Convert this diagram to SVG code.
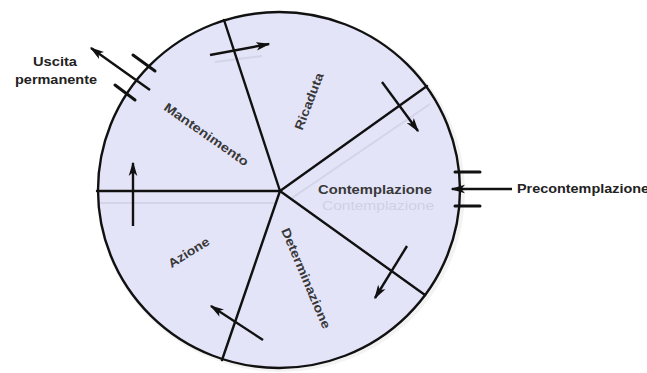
<svg xmlns="http://www.w3.org/2000/svg" width="647" height="373" viewBox="0 0 647 373">
<defs>
<marker id="ah" viewBox="0 0 10 6" refX="9" refY="3" markerWidth="6" markerHeight="3.8" markerUnits="strokeWidth" orient="auto">
<path d="M0,0 L10,3 L0,6 L2.5,3 Z" fill="#111"/>
</marker>
<style>
.sp{stroke:#111;stroke-width:2.4;fill:none;stroke-linecap:round}
.ar{stroke:#111;stroke-width:2.4;fill:none;marker-end:url(#ah)}
.bar{stroke:#111;stroke-width:3;stroke-linecap:round}
.sh{stroke:#c9c9dd;stroke-width:2;fill:none;opacity:0.6}
.lbl{font-family:"Liberation Sans",Arial,sans-serif;font-size:12.5px;font-weight:bold;fill:#383838;text-anchor:middle}
.ext{font-family:"Liberation Sans",Arial,sans-serif;font-size:12px;font-weight:bold;fill:#222}
.ghost{font-family:"Liberation Sans",Arial,sans-serif;font-size:12px;fill:#d0d0e4;text-anchor:middle}
</style>
</defs>
<rect width="647" height="373" fill="#fff"/>
<g id="wheel">
<ellipse cx="281" cy="192" rx="184" ry="180" fill="#f0f0f0" opacity="0.8"/>
<ellipse cx="279" cy="190" rx="181" ry="178" fill="#e4e4f8" stroke="#111" stroke-width="2.4"/>
</g>
<g id="shadows">
<line class="sh" x1="100" y1="203" x2="275" y2="203"/>
<line class="sh" x1="292" y1="198" x2="430" y2="104"/>
<line class="sh" x1="215" y1="62" x2="262" y2="56"/>
</g>
<g id="connectors">
<line class="sp" x1="280" y1="191" x2="224" y2="20"/>
<line class="sp" x1="280" y1="191" x2="427" y2="86"/>
<line class="sp" x1="280" y1="191" x2="97" y2="191"/>
<line class="sp" x1="280" y1="191" x2="425" y2="295"/>
<line class="sp" x1="280" y1="191" x2="222" y2="360"/>
<line class="ar" x1="210" y1="55" x2="269" y2="44"/>
<line class="ar" x1="382" y1="82" x2="418" y2="131"/>
<line class="ar" x1="407" y1="246" x2="375" y2="298"/>
<line class="ar" x1="263" y1="340" x2="211" y2="306"/>
<line class="ar" x1="133" y1="226" x2="133" y2="163"/>
<line class="ar" x1="150" y1="90" x2="91" y2="48"/>
<line class="bar" x1="133" y1="55" x2="155" y2="71"/>
<line class="bar" x1="115" y1="85" x2="135" y2="100"/>
<line class="ar" x1="512" y1="189" x2="452" y2="189"/>
<line class="bar" x1="455" y1="172" x2="480" y2="172"/>
<line class="bar" x1="455" y1="206" x2="480" y2="206"/>
</g>
<g id="mantenimento"><text class="lbl" transform="translate(204,138) rotate(35)" textLength="100" lengthAdjust="spacingAndGlyphs">Mantenimento</text></g>
<g id="ricaduta"><text class="lbl" transform="translate(313,103) rotate(-69)" textLength="60" lengthAdjust="spacingAndGlyphs">Ricaduta</text></g>
<g id="contemplazione">
<text class="ghost" x="378" y="210" textLength="112" lengthAdjust="spacingAndGlyphs">Contemplazione</text>
<text class="lbl" x="375" y="194" textLength="114" lengthAdjust="spacingAndGlyphs">Contemplazione</text>
</g>
<g id="determinazione"><text class="lbl" transform="translate(302,280) rotate(67)" textLength="108" lengthAdjust="spacingAndGlyphs">Determinazione</text></g>
<g id="azione"><text class="lbl" transform="translate(191,256) rotate(-32)" textLength="46" lengthAdjust="spacingAndGlyphs">Azione</text></g>
<g id="uscita">
<text class="ext" x="55" y="66" text-anchor="middle" textLength="44" lengthAdjust="spacingAndGlyphs">Uscita</text>
<text class="ext" x="56" y="84" text-anchor="middle" textLength="82" lengthAdjust="spacingAndGlyphs">permanente</text>
</g>
<g id="precontemplazione"><text class="ext" x="517" y="193" textLength="132" lengthAdjust="spacingAndGlyphs">Precontemplazione</text></g>
</svg>
